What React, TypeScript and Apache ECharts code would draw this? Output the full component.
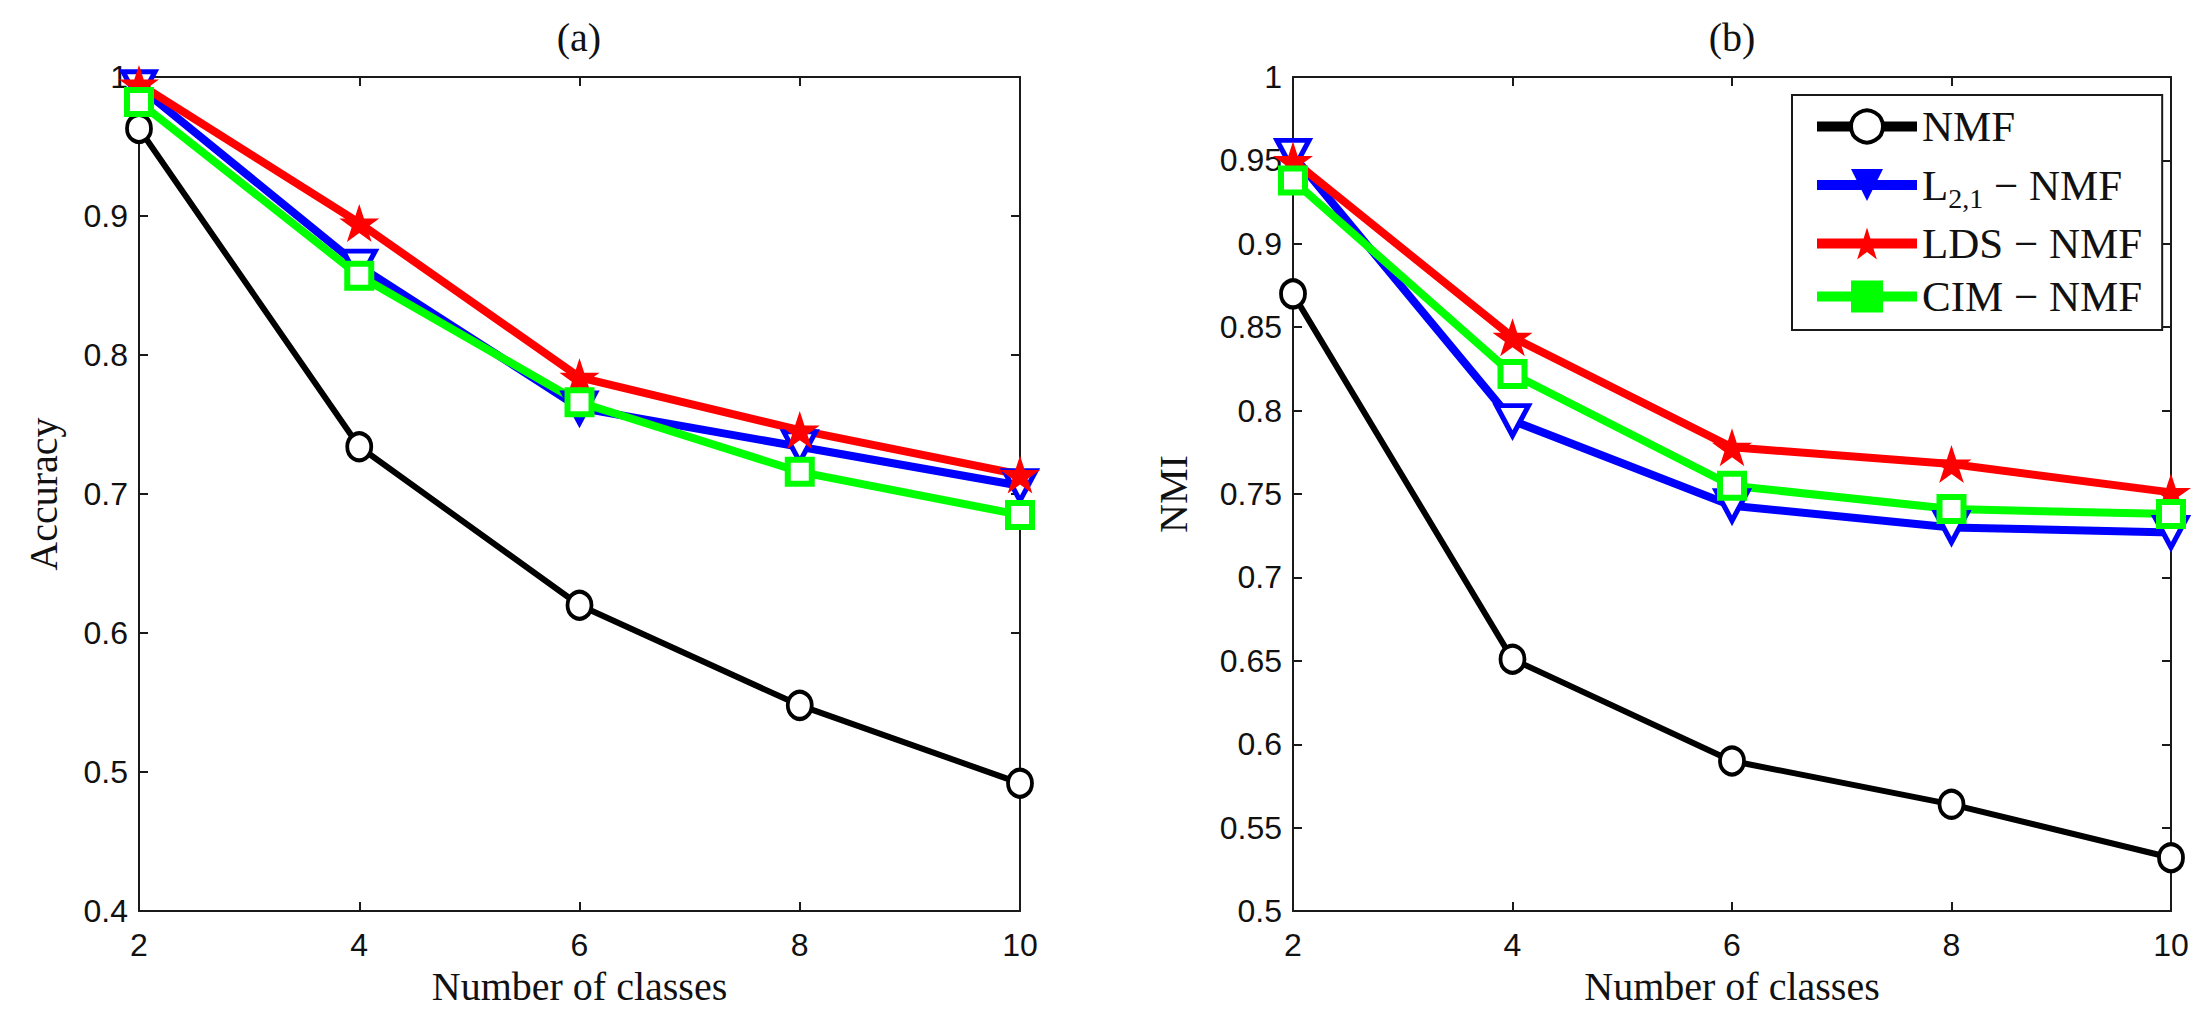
import React, { useEffect, useRef } from 'react';
import * as echarts from 'echarts';

const classes = [2, 4, 6, 8, 10];

const accNMF = [0.963, 0.734, 0.62, 0.548, 0.492];
const accL21 = [0.993, 0.864, 0.762, 0.734, 0.706];
const accLDS = [0.995, 0.895, 0.784, 0.746, 0.714];
const accCIM = [0.982, 0.857, 0.766, 0.716, 0.685];

const nmiNMF = [0.87, 0.651, 0.59, 0.564, 0.532];
const nmiL21 = [0.953, 0.794, 0.743, 0.73, 0.727];
const nmiLDS = [0.95, 0.844, 0.778, 0.768, 0.751];
const nmiCIM = [0.938, 0.822, 0.755, 0.741, 0.738];

const seriesNames = ['NMF', 'L2,1 − NMF', 'LDS − NMF', 'CIM − NMF'];
const panelTitles = ['(a)', '(b)'];
const yNames = ['Accuracy', 'NMI'];
const xName = 'Number of classes';

const BLACK = '#000000';
const BLUE = '#0000ff';
const RED = '#ff0000';
const GREEN = '#00ff00';

const STAR =
  'path://M0,-1 L0.2245,-0.309 L0.951,-0.309 L0.363,0.118 L0.588,0.809 L0,0.382 L-0.588,0.809 L-0.363,0.118 L-0.951,-0.309 L-0.2245,-0.309 Z';

const SERIF = '"Liberation Serif", "Times New Roman", serif';
const SANS = '"Liberation Sans", Arial, sans-serif';

function pairs(vals: number[]) {
  return classes.map((c, i) => [c, vals[i]]);
}

function seriesFor(grid: number, vals: number[][]) {
  const styles = [
    {
      symbol: 'circle',
      symbolSize: [24, 27],
      itemStyle: { color: '#ffffff', borderColor: BLACK, borderWidth: 4 },
      lineStyle: { color: BLACK, width: 6 },
    },
    {
      symbol: 'triangle',
      symbolRotate: 180,
      symbolSize: [32, 30],
      itemStyle: { color: '#ffffff', borderColor: BLUE, borderWidth: 5 },
      lineStyle: { color: BLUE, width: 8 },
    },
    {
      symbol: STAR,
      symbolSize: [40, 38],
      itemStyle: { color: RED, borderWidth: 0 },
      lineStyle: { color: RED, width: 8 },
    },
    {
      symbol: 'rect',
      symbolSize: 24,
      itemStyle: { color: '#ffffff', borderColor: GREEN, borderWidth: 6 },
      lineStyle: { color: GREEN, width: 8 },
    },
  ];
  return vals.map((v, i) => ({
    type: 'line',
    name: seriesNames[i],
    xAxisIndex: grid * 2,
    yAxisIndex: grid * 2,
    data: pairs(v),
    clip: false,
    showAllSymbol: true,
    emphasis: { disabled: true },
    ...styles[i],
  }));
}

const axisLineStyle = { color: '#1a1a1a', width: 2 };

function xAxes(grid: number) {
  const common = {
    type: 'value',
    gridIndex: grid,
    min: 2,
    max: 10,
    interval: 2,
    axisLine: { show: true, onZero: false, lineStyle: axisLineStyle },
    axisTick: { show: true, inside: true, length: 9, lineStyle: axisLineStyle },
    splitLine: { show: false },
  };
  return [
    {
      ...common,
      position: 'bottom',
      name: xName,
      nameLocation: 'middle',
      nameGap: 50,
      nameTextStyle: { fontFamily: SERIF, fontSize: 40, color: '#111' },
      axisLabel: { show: true, margin: 18, fontFamily: SANS, fontSize: 32, color: '#111' },
    },
    { ...common, position: 'top', axisLabel: { show: false } },
  ];
}

function yAxes(grid: number, min: number, interval: number, nameGap: number) {
  const common = {
    type: 'value',
    gridIndex: grid,
    min,
    max: 1,
    interval,
    axisLine: { show: true, onZero: false, lineStyle: axisLineStyle },
    axisTick: { show: true, inside: true, length: 9, lineStyle: axisLineStyle },
    splitLine: { show: false },
  };
  return [
    {
      ...common,
      position: 'left',
      name: yNames[grid],
      nameLocation: 'middle',
      nameGap,
      nameTextStyle: { fontFamily: SERIF, fontSize: 40, color: '#111' },
      axisLabel: {
        show: true,
        margin: 11,
        fontFamily: SANS,
        fontSize: 32,
        color: '#111',
        formatter: (v: number) => String(+v.toFixed(2)),
      },
    },
    { ...common, position: 'right', axisLabel: { show: false } },
  ];
}

export default function App() {
  const ref = useRef<HTMLDivElement>(null);
  useEffect(() => {
    const chart = echarts.init(ref.current!, undefined, { renderer: 'svg' });
    const option = {
      animation: false,
      backgroundColor: '#ffffff',
      grid: [
        { left: 139, right: 1178, top: 77, bottom: 97 },
        { left: 1293, right: 27, top: 77, bottom: 97 },
      ],
      xAxis: [...xAxes(0), ...xAxes(1)],
      yAxis: [...yAxes(0, 0.4, 0.1, 76), ...yAxes(1, 0.5, 0.05, 100)],
      graphic: [
        {
          type: 'text',
          x: 579,
          y: 37,
          style: {
            text: panelTitles[0],
            fontFamily: SERIF,
            fontSize: 40,
            fill: '#111',
            textAlign: 'center',
            textVerticalAlign: 'middle',
          },
        },
        {
          type: 'text',
          x: 1732,
          y: 37,
          style: {
            text: panelTitles[1],
            fontFamily: SERIF,
            fontSize: 40,
            fill: '#111',
            textAlign: 'center',
            textVerticalAlign: 'middle',
          },
        },
      ],
      legend: {
        show: true,
        orient: 'vertical',
        left: 1792,
        top: 95,
        padding: [10, 20, 12, 20],
        itemWidth: 100,
        itemHeight: 40,
        itemGap: 10,
        backgroundColor: '#ffffff',
        borderColor: '#1a1a1a',
        borderWidth: 2,
        borderRadius: 0,
        selectedMode: false,
        lineStyle: { width: 10 },
        data: [
          { name: seriesNames[0], itemStyle: { color: '#ffffff', borderColor: BLACK, borderWidth: 4 } },
          { name: seriesNames[1], itemStyle: { color: BLUE, borderColor: BLUE, borderWidth: 0 } },
          { name: seriesNames[2], itemStyle: { color: RED, borderWidth: 0 } },
          { name: seriesNames[3], itemStyle: { color: GREEN, borderColor: GREEN, borderWidth: 0 } },
        ],
        formatter: (name: string) =>
          name === seriesNames[1] ? '{t|L}{s|2,1}{t| − NMF}' : '{t|' + name + '}',
        textStyle: {
          fontFamily: SERIF,
          fontSize: 43,
          color: '#111',
          rich: {
            t: { fontFamily: SERIF, fontSize: 43, color: '#111', lineHeight: 40 },
            s: {
              fontFamily: SERIF,
              fontSize: 28,
              color: '#111',
              lineHeight: 14,
              padding: [26, 0, 0, 0],
            },
          },
        },
      },
      series: [
        ...seriesFor(0, [accNMF, accL21, accLDS, accCIM]),
        ...seriesFor(1, [nmiNMF, nmiL21, nmiLDS, nmiCIM]),
      ],
    };
    chart.setOption(option as any);
    return () => chart.dispose();
  }, []);
  return (
    <div
      ref={ref}
      style={{ position: 'fixed', left: 0, top: 0, width: 2198, height: 1011, background: '#fff' }}
    />
  );
}
